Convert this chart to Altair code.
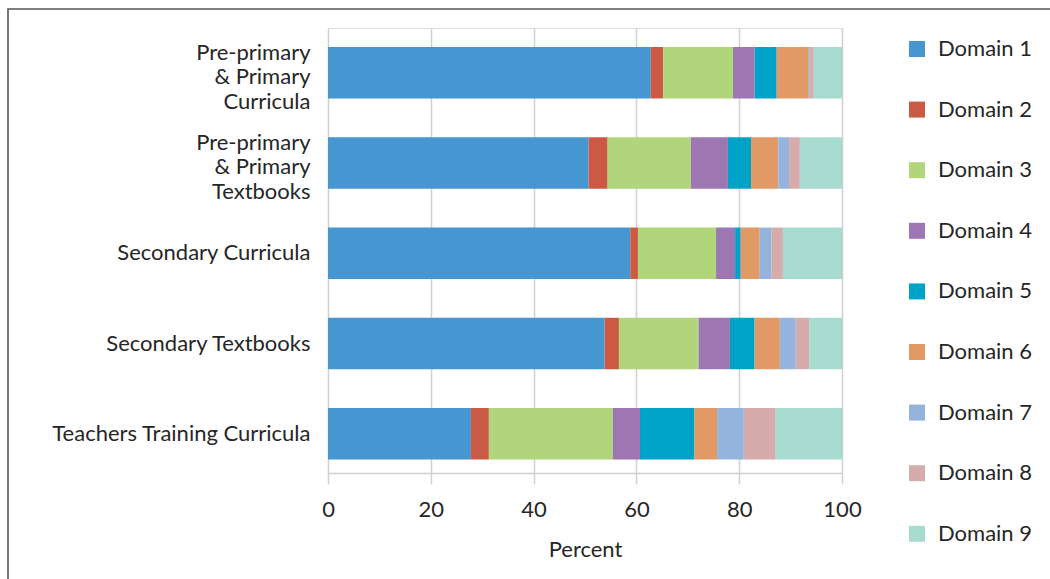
import altair as alt
import pandas as pd

categories = [
    "Pre-primary|& Primary|Curricula",
    "Pre-primary|& Primary|Textbooks",
    "Secondary Curricula",
    "Secondary Textbooks",
    "Teachers Training Curricula",
]
domains = [f"Domain {i}" for i in range(1, 10)]
colors = ["#4696D2", "#CB5A45", "#B0D57B", "#9E77B2", "#00A3C8",
          "#E19A66", "#95B4DD", "#D6ABAB", "#A8DBCF"]

# values per domain, in category order
domain1 = [62.8, 50.7, 58.8, 53.8, 27.8]
domain2 = [2.4, 3.7, 1.5, 2.8, 3.5]
domain3 = [13.6, 16.2, 15.2, 15.5, 24.1]
domain4 = [4.2, 7.2, 3.7, 6.1, 5.3]
domain5 = [4.3, 4.5, 1.1, 4.8, 10.6]
domain6 = [6.1, 5.3, 3.7, 4.9, 4.4]
domain7 = [0.2, 2.1, 2.3, 3.1, 5.2]
domain8 = [0.9, 2.1, 2.2, 2.6, 6.2]
domain9 = [5.5, 8.2, 11.5, 6.4, 12.9]
series = [domain1, domain2, domain3, domain4, domain5,
          domain6, domain7, domain8, domain9]

rows = []
for di, (dname, vals) in enumerate(zip(domains, series)):
    for cat, v in zip(categories, vals):
        rows.append({"category": cat, "domain": dname, "order": di, "value": v})
df = pd.DataFrame(rows)

FONT = "Lato"
TXT = "#262626"
GRID = "#D0D0D0"
FS = 22

bars = alt.Chart(df).mark_bar(strokeWidth=0).encode(
    y=alt.Y("category:N", sort=categories,
            scale=alt.Scale(paddingInner=0.43, paddingOuter=0.18, align=0.585),
            axis=alt.Axis(title=None, ticks=False, domain=False, grid=False,
                          labelExpr="split(datum.label, '|')",
                          labelFontSize=FS, labelFont=FONT, labelColor=TXT,
                          labelPadding=18, labelLineHeight=24.5,
                          labelOffset=alt.condition(
                              "indexof(datum.value, '|') >= 0",
                              alt.value(-20), alt.value(0)),
                          labelLimit=400)),
    x=alt.X("value:Q", stack="zero",
            scale=alt.Scale(domain=[0, 100], nice=False),
            axis=alt.Axis(title="Percent", values=[0, 20, 40, 60, 80, 100],
                          grid=True, gridColor=GRID, gridWidth=1.5,
                          domainColor=GRID, domainWidth=1.5,
                          tickColor=GRID, tickWidth=1.5, tickSize=11,
                          labelFlush=False,
                          labelFontSize=FS, labelFont=FONT, labelColor=TXT,
                          labelPadding=15, titleFontSize=FS, titleFont=FONT,
                          titleColor=TXT, titleFontWeight="normal",
                          titlePadding=19)),
    color=alt.Color("domain:N", sort=domains,
                    scale=alt.Scale(domain=domains, range=colors),
                    legend=alt.Legend(title=None, orient="none",
                                      legendX=578, legendY=10,
                                      symbolType="square", symbolSize=256,
                                      symbolStrokeWidth=0, symbolOpacity=1,
                                      labelFontSize=FS, labelFont=FONT,
                                      labelColor=TXT, labelOffset=10,
                                      rowPadding=38.6, padding=0)),
    order=alt.Order("order:Q"),
)

frame = alt.Chart(pd.DataFrame({"a": [0]})).mark_rect(
    fill=None, stroke="#555555", strokeWidth=1.6, clip=False
).encode(
    x=alt.value(-320), x2=alt.value(760),
    y=alt.value(-19), y2=alt.value(600),
)

chart = alt.layer(bars, frame).properties(
    width=514, height=445,
    autosize=alt.AutoSizeParams(type="none"),
    padding={"left": 328, "top": 28, "right": 208, "bottom": 106},
).configure_view(stroke=None).configure(background="white")

chart.save("out.html", embed_options={"renderer": "svg", "actions": False})
